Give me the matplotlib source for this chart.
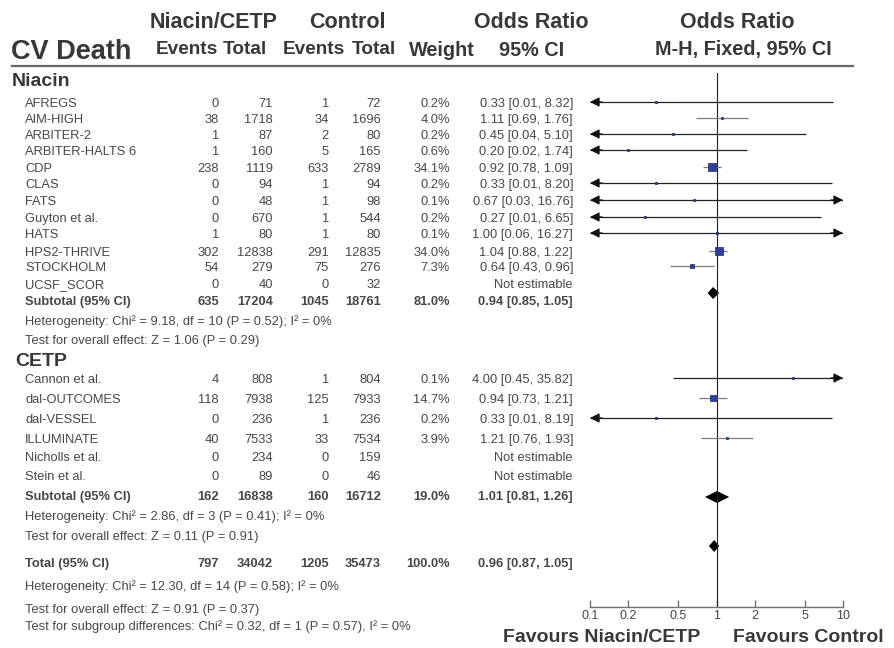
import matplotlib
matplotlib.use('Agg')

import numpy as np
import matplotlib.pyplot as plt

plt.rcParams['font.family'] = ['Liberation Sans', 'DejaVu Sans']

# Niacin trials
niacin_names = ['AFREGS', 'AIM-HIGH', 'ARBITER-2', 'ARBITER-HALTS 6', 'CDP', 'CLAS', 'FATS',
                'Guyton et al.', 'HATS', 'HPS2-THRIVE', 'STOCKHOLM', 'UCSF_SCOR']
niacin_ev1 = [0, 38, 1, 1, 238, 0, 0, 0, 1, 302, 54, 0]
niacin_tot1 = [71, 1718, 87, 160, 1119, 94, 48, 670, 80, 12838, 279, 40]
niacin_ev2 = [1, 34, 2, 5, 633, 1, 1, 1, 1, 291, 75, 0]
niacin_tot2 = [72, 1696, 80, 165, 2789, 94, 98, 544, 80, 12835, 276, 32]
niacin_weight = [0.2, 4.0, 0.2, 0.6, 34.1, 0.2, 0.1, 0.2, 0.1, 34.0, 7.3, None]
niacin_or = [0.33, 1.11, 0.45, 0.20, 0.92, 0.33, 0.67, 0.27, 1.00, 1.04, 0.64, None]
niacin_lo = [0.01, 0.69, 0.04, 0.02, 0.78, 0.01, 0.03, 0.01, 0.06, 0.88, 0.43, None]
niacin_hi = [8.32, 1.76, 5.10, 1.74, 1.09, 8.20, 16.76, 6.65, 16.27, 1.22, 0.96, None]

# CETP trials
cetp_names = ['Cannon et al.', 'dal-OUTCOMES', 'dal-VESSEL', 'ILLUMINATE', 'Nicholls et al.', 'Stein et al.']
cetp_ev1 = [4, 118, 0, 40, 0, 0]
cetp_tot1 = [808, 7938, 236, 7533, 234, 89]
cetp_ev2 = [1, 125, 1, 33, 0, 0]
cetp_tot2 = [804, 7933, 236, 7534, 159, 46]
cetp_weight = [0.1, 14.7, 0.2, 3.9, None, None]
cetp_or = [4.00, 0.94, 0.33, 1.21, None, None]
cetp_lo = [0.45, 0.73, 0.01, 0.76, None, None]
cetp_hi = [35.82, 1.21, 8.19, 1.93, None, None]

# pooled: events1, total1, events2, total2, weight, or, lo, hi
niacin_sub = [635, 17204, 1045, 18761, 81.0, 0.94, 0.85, 1.05]
cetp_sub = [162, 16838, 160, 16712, 19.0, 1.01, 0.81, 1.26]
overall = [797, 34042, 1205, 35473, 100.0, 0.96, 0.87, 1.05]

niacin_het = 'Heterogeneity: Chi\u00b2 = 9.18, df = 10 (P = 0.52); I\u00b2 = 0%'
niacin_z = 'Test for overall effect: Z = 1.06 (P = 0.29)'
cetp_het = 'Heterogeneity: Chi\u00b2 = 2.86, df = 3 (P = 0.41); I\u00b2 = 0%'
cetp_z = 'Test for overall effect: Z = 0.11 (P = 0.91)'
total_het = 'Heterogeneity: Chi\u00b2 = 12.30, df = 14 (P = 0.58); I\u00b2 = 0%'
total_z = 'Test for overall effect: Z = 0.91 (P = 0.37)'
subgroup_txt = 'Test for subgroup differences: Chi\u00b2 = 0.32, df = 1 (P = 0.57), I\u00b2 = 0%'

tick_vals = [0.1, 0.2, 0.5, 1, 2, 5, 10]
tick_labels = ['0.1', '0.2', '0.5', '1', '2', '5', '10']

# layout (pixel rows)
niacin_rows = [104, 120, 136, 152, 169, 185, 202, 219, 235, 253, 268, 285]
cetp_rows = [380, 400, 420, 440, 458, 477]
HEAD = '#383838'
BODY = '#474747'
COLS = [219, 273, 329, 381, 450, 573]
FS = 9.3

fig = plt.figure(figsize=(8.94, 6.48), dpi=100)
fig.patch.set_facecolor('white')
tx = fig.add_axes([0, 0, 1, 1])
tx.set_xlim(0, 894)
tx.set_ylim(648, 0)
tx.axis('off')

# header
for s, x in [('Niacin/CETP', 214), ('Control', 347), ('Odds Ratio', 531), ('Odds Ratio', 737)]:
    tx.text(x, 22, s, ha='center', va='center', fontsize=15.5, fontweight='bold', color=HEAD)
tx.text(11, 52, 'CV Death', ha='left', va='center', fontsize=19.5, fontweight='bold', color=HEAD)
for s, x in [('Events', 187), ('Total', 245), ('Events', 314), ('Total', 374)]:
    tx.text(x, 50, s, ha='center', va='center', fontsize=13.7, fontweight='bold', color=HEAD)
for s, x in [('Weight', 442), ('95% CI', 532), ('M-H, Fixed, 95% CI', 743)]:
    tx.text(x, 50, s, ha='center', va='center', fontsize=14.3, fontweight='bold', color=HEAD)
tx.plot([12, 853], [66, 66], color='#666666', lw=1.6)

tx.text(12, 81, 'Niacin', ha='left', va='center', fontsize=14, fontweight='bold', color=HEAD)
tx.text(15, 361, 'CETP', ha='left', va='center', fontsize=14, fontweight='bold', color=HEAD)


def fmt_ci(o, l, h):
    return f'{o:.2f} [{l:.2f}, {h:.2f}]'


def study_rows(names, e1, t1, e2, t2, w, o, l, h, rows):
    for i, y in enumerate(rows):
        tx.text(25, y, names[i], ha='left', va='center', fontsize=FS, color=BODY)
        for val, x in zip([e1[i], t1[i], e2[i], t2[i]], COLS[:4]):
            tx.text(x, y, str(val), ha='right', va='center', fontsize=FS, color=BODY)
        if w[i] is not None:
            tx.text(COLS[4], y, f'{w[i]:.1f}%', ha='right', va='center', fontsize=FS, color=BODY)
            tx.text(COLS[5], y, fmt_ci(o[i], l[i], h[i]), ha='right', va='center', fontsize=FS, color=BODY)
        else:
            tx.text(COLS[5], y, 'Not estimable', ha='right', va='center', fontsize=FS, color=BODY)


def pooled_row(label, vals, y):
    tx.text(25, y, label, ha='left', va='center', fontsize=FS, fontweight='bold', color=BODY)
    for val, x in zip(vals[:4], COLS[:4]):
        tx.text(x, y, str(val), ha='right', va='center', fontsize=FS, fontweight='bold', color=BODY)
    tx.text(COLS[4], y, f'{vals[4]:.1f}%', ha='right', va='center', fontsize=FS, fontweight='bold', color=BODY)
    tx.text(COLS[5], y, fmt_ci(*vals[5:]), ha='right', va='center', fontsize=FS, fontweight='bold', color=BODY)


study_rows(niacin_names, niacin_ev1, niacin_tot1, niacin_ev2, niacin_tot2,
           niacin_weight, niacin_or, niacin_lo, niacin_hi, niacin_rows)
pooled_row('Subtotal (95% CI)', niacin_sub, 302)
tx.text(25, 322, niacin_het, ha='left', va='center', fontsize=FS, color=BODY)
tx.text(25, 341, niacin_z, ha='left', va='center', fontsize=FS, color=BODY)

study_rows(cetp_names, cetp_ev1, cetp_tot1, cetp_ev2, cetp_tot2,
           cetp_weight, cetp_or, cetp_lo, cetp_hi, cetp_rows)
pooled_row('Subtotal (95% CI)', cetp_sub, 497)
tx.text(25, 517, cetp_het, ha='left', va='center', fontsize=FS, color=BODY)
tx.text(25, 537, cetp_z, ha='left', va='center', fontsize=FS, color=BODY)

pooled_row('Total (95% CI)', overall, 564)
tx.text(25, 587, total_het, ha='left', va='center', fontsize=FS, color=BODY)
tx.text(25, 610, total_z, ha='left', va='center', fontsize=FS, color=BODY)
tx.text(25, 627, subgroup_txt, ha='left', va='center', fontsize=FS, color=BODY)

tx.text(602, 637, 'Favours Niacin/CETP', ha='center', va='center', fontsize=14, fontweight='bold', color=HEAD)
tx.text(808, 637, 'Favours Control', ha='center', va='center', fontsize=14, fontweight='bold', color=HEAD)

# forest panel
ax = fig.add_axes([590 / 894, (648 - 607) / 648, (843 - 590) / 894, (607 - 73) / 648])
ax.patch.set_alpha(0)
ax.set_xscale('log')
ax.set_xlim(0.1, 10)
ax.set_ylim(607, 73)
for sp in ['top', 'left', 'right']:
    ax.spines[sp].set_visible(False)
ax.spines['bottom'].set_color('#707070')
ax.spines['bottom'].set_linewidth(1.0)
ax.set_yticks([])
ax.set_xticks(tick_vals)
ax.set_xticklabels(tick_labels)
ax.minorticks_off()
ax.tick_params(axis='x', direction='in', length=5, width=1, color='#707070',
               labelsize=9, labelcolor=BODY, pad=2)
ax.axvline(1, color='#222222', lw=0.8)


def forest(o, l, h, w, rows):
    for i, y in enumerate(rows):
        if o[i] is None:
            continue
        ym = y - 2
        lo_c, hi_c = max(l[i], 0.1), min(h[i], 10)
        clipped = l[i] < 0.1 or h[i] > 10
        ax.plot([lo_c, hi_c], [ym, ym], color='#222222' if clipped else '#7a7a7a', lw=0.9,
                solid_capstyle='butt')
        for edge, inner, past in [(0.1, 0.125, l[i] < 0.1), (10, 8.0, h[i] > 10)]:
            if past:
                ax.annotate('', xy=(edge, ym), xytext=(inner, ym), annotation_clip=False,
                            arrowprops=dict(arrowstyle='-|>,head_length=0.55,head_width=0.28',
                                            color='#111111', lw=0.9, shrinkA=0, shrinkB=0))
        side = max(2.3, 1.45 * np.sqrt(w[i]))
        ax.plot([o[i]], [ym], marker='s', markersize=side * 0.72, color='#2e3f9c',
                markeredgecolor='#1c2660', markeredgewidth=0.5)


def diamond(vals, y, half):
    o, l, h = vals[5:]
    ax.fill([l, o, h, o], [y, y - half, y, y + half], color='black', lw=0)


forest(niacin_or, niacin_lo, niacin_hi, niacin_weight, niacin_rows)
forest(cetp_or, cetp_lo, cetp_hi, cetp_weight, cetp_rows)
diamond(niacin_sub, 293, 6)
diamond(cetp_sub, 497, 6)
diamond(overall, 546, 6)

fig.savefig('out.png', dpi=100, facecolor='white')
